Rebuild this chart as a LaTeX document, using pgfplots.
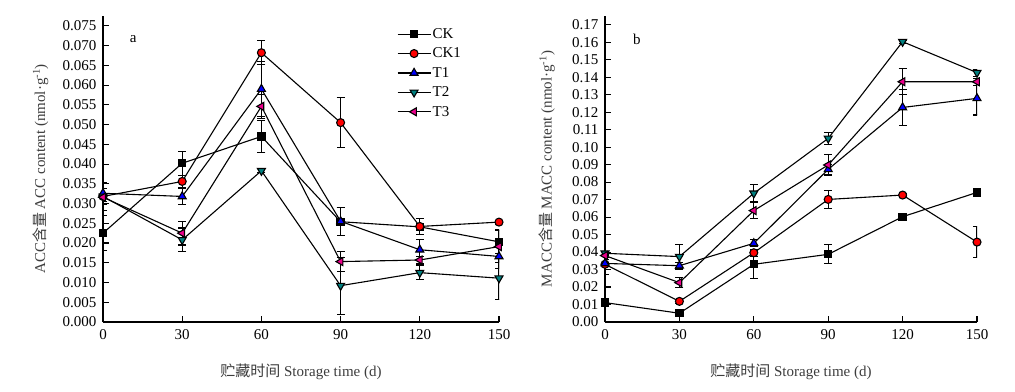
\documentclass[border=0pt]{standalone}
\usepackage{pgfplots}
\pgfplotsset{compat=1.18}
\usepackage{pgfplotstable}
\usepackage{fontspec}
\setmainfont{Liberation Serif}
\newfontfamily\cjk{Noto Sans CJK SC}
\definecolor{tealc}{RGB}{0,128,128}
\definecolor{labgray}{RGB}{60,60,60}

\pgfplotstableread{
x   ck      eck     ckb     eckb    ta      eta     tb      etb     tc      etc
0   0.0225  0.0045  0.0318  0.0035  0.0326  0.0027  0.0318  0.0020  0.0316  0.0010
30  0.0402  0.0030  0.0356  0.0015  0.0318  0.0020  0.0208  0.0030  0.0225  0.0030
60  0.0470  0.0040  0.0682  0.0030  0.0590  0.0070  0.0383  0.0005  0.0546  0.0030
90  0.0254  0.0035  0.0505  0.0063  0.0255  0.0035  0.0092  0.0072  0.0153  0.0025
120 0.0241  0.0020  0.0242  0.0020  0.0183  0.0025  0.0125  0.0018  0.0157  0.0010
150 0.0203  0.0030  0.0253  0.0005  0.0166  0.0030  0.0111  0.0055  0.0191  0.0040
}\acc

\pgfplotstableread{
x   ck      eck     ckb     eckb    ta      eta     tb      etb     tc      etc
0   0.0111  0.0005  0.0330  0.0060  0.0335  0.0020  0.0393  0.0010  0.0380  0.0010
30  0.0050  0.0005  0.0118  0.0010  0.0322  0.0020  0.0374  0.0070  0.0225  0.0030
60  0.0330  0.0080  0.0396  0.0020  0.0450  0.0020  0.0736  0.0050  0.0637  0.0045
90  0.0387  0.0055  0.0701  0.0050  0.0873  0.0030  0.1050  0.0035  0.0898  0.0060
120 0.0602  0.0010  0.0726  0.0010  0.1227  0.0105  0.1603  0.0010  0.1374  0.0075
150 0.0741  0.0010  0.0457  0.0088  0.1279  0.0095  0.1426  0.0020  0.1374  0.0020
}\macc

\pgfplotsset{
  panel/.style={
    scale only axis,
    anchor=south west,
    height=306bp,
    xmin=0, xmax=150,
    xtick={0,30,60,90,120,150},
    axis x line=bottom,
    axis y line=left,
    axis line style={-, line width=1.1bp, black},
    tick align=inside,
    major tick length=5.5bp,
    tick style={line width=1.1bp, black},
    font=\fontsize{15bp}{17bp}\selectfont,
    tick label style={font=\fontsize{15bp}{17bp}\selectfont},
    /pgf/number format/assume math mode=true,
    scaled y ticks=false,
    xticklabel style={yshift=-4bp},
    yticklabel style={xshift=-3bp},
    label style={text=labgray, font=\fontsize{15bp}{17bp}\selectfont},
    xlabel={{\cjk 贮藏时间} Storage time (d)},
    every axis plot/.append style={line width=1.1bp, black, mark options={solid, draw=black, line width=0.8bp}},
    error bars/y dir=both,
    error bars/y explicit,
    error bars/error mark options={rotate=90, mark size=4bp, black, line width=1.1bp},
    error bars/error bar style={line width=1.1bp, black},
  },
  ckst/.style={mark=square*, mark size=3.6bp, mark options={fill=black}},
  ckbst/.style={mark=*, mark size=4bp, mark options={fill=red}},
  tast/.style={mark=triangle*, mark size=4.6bp, mark options={fill=blue}},
  tbst/.style={mark=triangle*, mark size=4.6bp, mark options={fill=tealc, rotate=180}},
  tcst/.style={mark=triangle*, mark size=4.6bp, mark options={fill=magenta, rotate=90}},
}

\begin{document}
\begin{tikzpicture}
\useasboundingbox (0,0) rectangle (1015bp,392bp);

\begin{axis}[panel,
  at={(103bp,70bp)},
  width=396bp,
  ymin=0, ymax=0.0775,
  ytick={0,0.005,0.010,0.015,0.020,0.025,0.030,0.035,0.040,0.045,0.050,0.055,0.060,0.065,0.070,0.075},
  yticklabel style={/pgf/number format/.cd, fixed, fixed zerofill, precision=3},
  ylabel={ACC{\cjk 含量} ACC content (nmol·g\textsuperscript{-1})},
  ylabel style={at={(axis description cs:-0.158,0.5)}, anchor=center},
  xlabel style={at={(axis description cs:0.5,-0.163)}, anchor=center},
  legend style={draw=none, fill=none, at={(axis description cs:0.742,0.965)}, anchor=north west,
    font=\fontsize{15bp}{17bp}\selectfont, row sep=5bp, inner sep=0pt,
    nodes={inner sep=1.5bp}},
  legend cell align=left,
  legend image code/.code={\draw[mark repeat=2, mark phase=2] plot coordinates {(0bp,0bp)(16.5bp,0bp)(33bp,0bp)};},
]
\addplot[ckst]  table[x=x, y=ck,  y error=eck]  {\acc};
\addplot[ckbst] table[x=x, y=ckb, y error=eckb] {\acc};
\addplot[tast]  table[x=x, y=ta,  y error=eta]  {\acc};
\addplot[tbst]  table[x=x, y=tb,  y error=etb]  {\acc};
\addplot[tcst]  table[x=x, y=tc,  y error=etc]  {\acc};
\legend{CK, CK1, T1, T2, T3}
\node[font=\fontsize{15bp}{17bp}\selectfont] at (axis cs:11.4,0.0717) {a};
\end{axis}

\begin{axis}[panel,
  at={(605bp,70bp)},
  width=372bp,
  ymin=0, ymax=0.175,
  ytick={0,0.01,0.02,0.03,0.04,0.05,0.06,0.07,0.08,0.09,0.10,0.11,0.12,0.13,0.14,0.15,0.16,0.17},
  yticklabel style={/pgf/number format/.cd, fixed, fixed zerofill, precision=2},
  ylabel={MACC{\cjk 含量} MACC content (nmol·g\textsuperscript{-1})},
  ylabel style={at={(axis description cs:-0.156,0.5)}, anchor=center},
  xlabel style={at={(axis description cs:0.5,-0.163)}, anchor=center},
]
\addplot[ckst]  table[x=x, y=ck,  y error=eck]  {\macc};
\addplot[ckbst] table[x=x, y=ckb, y error=eckb] {\macc};
\addplot[tast]  table[x=x, y=ta,  y error=eta]  {\macc};
\addplot[tbst]  table[x=x, y=tb,  y error=etb]  {\macc};
\addplot[tcst]  table[x=x, y=tc,  y error=etc]  {\macc};
\node[font=\fontsize{15bp}{17bp}\selectfont] at (axis cs:12.9,0.1618) {b};
\end{axis}
\end{tikzpicture}
\end{document}
